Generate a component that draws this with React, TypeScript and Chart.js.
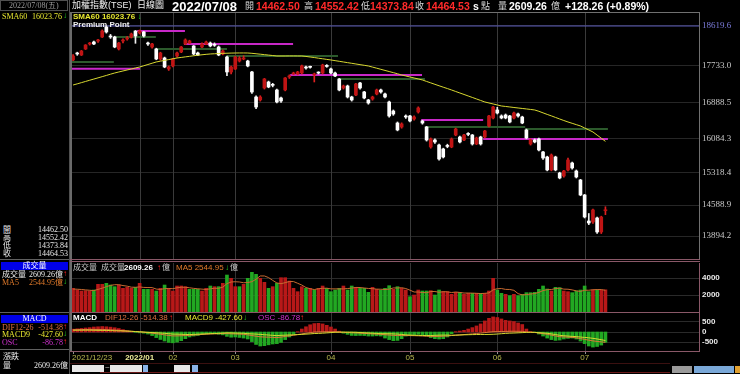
import React, { useEffect, useRef } from "react";
import { Chart, registerables } from "chart.js";
Chart.register(...registerables);

// ---------- DATA ----------
const opens = [17855,18012,17967,18102,18215,18260,18282,18372,18597,18395,18372,18102,18282,18327,18372,18507,18462,18485,18237,18147,18102,17877,17900,17652,17720,17945,18035,18215,18237,18170,18012,18147,18215,18237,18200,18147,17990,17922,17585,17652,17832,17877,17832,17585,17022,16955,17225,17360,17300,17180,17000,17180,17472,17540,17540,17562,17697,17700,17517,17570,17562,17730,17652,17562,17427,17225,17270,17022,17067,17337,17135,16955,16977,17090,17180,17090,16910,16707,16437,16347,16595,16595,16527,16685,16482,16347,15897,16055,15942,15852,15930,15897,16167,16122,16055,16200,16167,15965,16122,16122,16370,16550,16730,16595,16617,16595,16550,16640,16572,16280,15965,16055,16077,15785,15672,15380,15672,15312,15245,15380,15537,15357,15155,14817,14232,14210,14300,13985,14462.5];
const highs = [17975,18030,18070,18200,18250,18280,18320,18530,18619.6,18430,18390,18250,18330,18380,18460,18520,18530,18500,18260,18230,18120,18030,17920,17720,17890,18030,18160,18330,18300,18180,18030,18240,18280,18260,18240,18170,18080,17940,17720,17940,17930,17950,17850,17600,17050,17050,17440,17380,17330,17200,17020,17460,17520,17580,17600,17740,17720,17720,17560,17590,17760,17750,17670,17580,17440,17290,17290,17040,17330,17350,17150,16970,17040,17200,17200,17110,16930,16730,16460,16440,16620,16610,16600,16800,16500,16360,16100,16080,15960,15870,15960,16100,16320,16140,16180,16220,16180,16120,16140,16270,16610,16810,16790,16620,16640,16610,16680,16660,16590,16300,16080,16080,16100,15800,15690,15740,15690,15330,15370,15650,15560,15380,15170,14830,14400,14500,14320,14340,14552.42];
const lows = [17840,17960,17955,18090,18190,18200,18250,18360,18460,18340,18130,18080,18240,18300,18350,18230,18440,18370,18180,18120,17860,17850,17680,17620,17700,17920,18020,18200,18220,17970,17950,18130,18200,18150,18160,17950,17970,17500,17540,17640,17810,17860,17700,17100,16760,16930,17200,17230,17250,16890,16900,17160,17440,17520,17520,17540,17650,17670,17360,17540,17540,17690,17540,17480,17160,17200,17000,16930,17050,17200,16980,16860,16950,17070,17110,17000,16570,16610,16260,16320,16540,16460,16500,16660,16410,16030,15870,15980,15600,15650,15880,15880,16150,15990,16040,16150,15940,15950,15940,16100,16350,16530,16640,16530,16530,16440,16530,16570,16420,16080,15940,15990,15810,15620,15360,15360,15360,15180,15220,15360,15400,15200,14800,14300,14150,14180,13950,13950,14373.84];
const closes = [17945,17990,18057,18192,18237,18215,18305,18507,18485,18372,18147,18237,18305,18350,18440,18395,18507,18395,18215,18215,17877,18012,17697,17697,17877,18012,18147,18305,18282,17990,17967,18215,18260,18170,18185,17967,18057,17585,17697,17922,17900,17900,17720,17135,16797,17022,17427,17247,17285,16910,16932,17450,17495,17562,17585,17720,17675,17690,17540,17560,17742,17710,17562,17495,17180,17270,17022,16955,17315,17225,17000,16887,17022,17180,17135,17022,16595,16640,16280,16415,16572,16482,16572,16775,16437,16055,16077,16010,15627,15672,15910,16077,16302,16010,16167,16180,15965,16100,15965,16257,16595,16797,16662,16550,16550,16460,16662,16595,16437,16100,16055,16010,15830,15650,15380,15717,15380,15200,15357,15605,15425,15222,14817,14322,14187,14480,13985,14322,14464.53];
const sma60 = [17292,17318,17345,17372,17399,17426,17453,17480,17507,17535,17562,17585,17608,17630,17652,17675,17697,17725,17753,17782,17810,17828,17846,17864,17882,17900,17912,17925,17937,17950,17962,17972,17982,17990,17995,18000,18004,18007,18010,18012,18013,18013,18012,18005,17995,17985,17975,17965,17955,17945,17945,17945,17946,17946,17945,17945,17935,17922,17910,17895,17882,17868,17855,17840,17825,17810,17795,17780,17765,17750,17735,17720,17695,17670,17645,17620,17595,17570,17545,17517,17495,17472,17450,17428,17405,17372,17340,17307,17275,17243,17212,17180,17146,17112,17079,17045,17012,16978,16944,16910,16888,16865,16843,16820,16809,16798,16786,16775,16764,16753,16742,16730,16700,16665,16630,16597,16562,16527,16493,16460,16430,16400,16370,16325,16280,16235,16165,16095,16023.76];
const volumes = [2783,2587,2470,2509,2470,2587,3254,3254,3371,3175,2979,3175,2783,2901,2783,2901,3371,2666,2666,2666,2470,2783,3175,2783,2470,3058,3058,2979,2666,2666,2666,2470,2783,3058,2979,2979,3371,4351,3959,2979,2979,3254,3959,4665,4430,3959,3489,2783,2979,3371,4037,4037,3646,2783,2391,2979,2783,2783,2587,2783,3058,2783,2391,2587,2783,3058,2587,3058,2901,2783,2783,2312,2901,2666,2587,2783,3097,2666,2979,2783,2587,1803,1999,2587,2470,2470,2509,1999,2587,2391,2391,2078,2312,2312,2078,2195,2195,2195,2195,2195,2470,3959,2587,2195,2078,1921,2078,1921,2078,2274,2274,2312,2666,3058,2705,2470,2901,2862,2470,2391,2274,2470,2587,3058,2391,2587,2587,2587,2609.26];
const volMa5 = [2700,2680,2650,2600,2560,2520,2660,2800,2980,3130,3210,3210,3110,3040,2920,2910,2950,2890,2880,2870,2700,2650,2750,2770,2740,2850,2910,2910,2850,2780,2730,2690,2650,2730,2790,2790,2920,3340,3530,3560,3530,3440,3470,3570,3860,4240,4240,4050,3720,3420,3330,3450,3590,3580,3380,3170,2880,2740,2640,2740,2780,2800,2720,2720,2720,2720,2760,2810,2890,2880,2820,2770,2750,2690,2680,2650,2690,2830,2820,2860,2760,2570,2350,2350,2290,2270,2410,2410,2320,2390,2370,2290,2350,2300,2230,2230,2220,2200,2170,2200,2250,2610,2740,2760,2660,2650,2550,2160,2010,2050,2110,2170,2310,2520,2630,2640,2760,2800,2690,2680,2600,2490,2420,2560,2560,2620,2640,2640,2544.95];
const osc = [24,27,30,34,37,42,44,46,44,41,36,29,20,10,3,-3,-7,-10,-17,-30,-47,-63,-76,-88,-91,-85,-73,-56,-42,-34,-29,-20,-15,-14,-15,-19,-24,-37,-44,-42,-46,-51,-59,-81,-105,-118,-115,-108,-101,-98,-88,-64,-42,-20,3,25,44,61,71,73,68,56,42,25,7,-10,-20,-29,-30,-29,-30,-34,-34,-32,-34,-51,-64,-73,-71,-56,-34,-25,-22,-20,-25,-34,-47,-56,-59,-56,-42,-14,3,8,14,25,37,51,68,93,115,127,122,110,98,93,88,76,63,25,3,-5,-17,-34,-51,-64,-71,-68,-59,-54,-51,-59,-76,-98,-118,-127,-122,-110,-86.78];
const dif = [112,116,120,125,128,129,127,126,122,110,98,84,70,53,36,20,6,-13,-33,-58,-84,-115,-143,-172,-196,-193,-187,-178,-171,-155,-140,-122,-108,-99,-92,-86,-80,-79,-90,-96,-106,-116,-143,-176,-211,-239,-251,-259,-269,-279,-254,-222,-191,-160,-127,-94,-62,-32,-5,5,10,12,13,13,-3,-17,-28,-39,-45,-57,-68,-82,-94,-104,-117,-136,-152,-167,-176,-178,-177,-180,-184,-190,-200,-210,-224,-222,-218,-210,-197,-177,-157,-143,-128,-111,-94,-75,-54,-29,-6,14,21,25,29,37,37,35,32,6,-12,-23,-52,-84,-116,-159,-199,-234,-245,-257,-271,-290,-328,-369,-409,-444,-471,-495,-514.38];
const macd9 = [88,89,90,91,92,87,83,80,78,70,62,56,50,43,34,24,14,-3,-17,-28,-37,-52,-67,-84,-105,-108,-114,-122,-129,-121,-111,-102,-93,-85,-77,-67,-56,-42,-46,-54,-60,-65,-84,-95,-106,-121,-136,-151,-168,-181,-166,-158,-149,-140,-130,-119,-106,-93,-76,-69,-58,-44,-29,-13,-10,-7,-8,-10,-15,-28,-38,-48,-60,-72,-83,-85,-88,-94,-105,-122,-143,-155,-162,-170,-175,-176,-177,-166,-159,-154,-155,-163,-160,-151,-142,-136,-131,-126,-122,-122,-121,-114,-101,-85,-69,-57,-51,-41,-32,-20,-15,-18,-35,-50,-65,-95,-128,-166,-186,-203,-220,-231,-252,-271,-291,-317,-349,-385,-427.6];

const monthIdx = [16, 24, 39, 62, 81, 102, 123];
const monthLabels = ["2022/01", "02", "03", "04", "05", "06", "07"];
const firstLabel = "2021/12/23";
const priceTicks = [18619.6, 17733.0, 16888.5, 16084.3, 15318.4, 14588.9, 13894.2];
const periodHigh = 18619.6;
const volTicks = [4000, 2000];
const macdTicks = [500, 0, -500];

const magStart = [-0.5, 15.4, 26.7, 52.2, 83.7, 98.6];
const magEnd = [16.1, 26.9, 52.9, 83.9, 98.6, 128.6];
const magLevel = [17660, 18507, 18215, 17517, 16505, 16077];
const grnStart = [-0.5, 10.1, 19.9, 37.0, 63.7, 84.6, 108.7];
const grnEnd = [9.8, 19.9, 37.0, 63.7, 84.6, 108.7, 128.6];
const grnLevel = [17810, 18372, 18102, 17945, 17427, 16347, 16302];

// ---------- STYLE ----------
const SANS = '"Liberation Sans", "Noto Sans CJK TC", sans-serif';
const SERIF = '"Liberation Serif", "Noto Sans CJK TC", serif';
const RED_BODY = "#c01414";
const RED_WICK = "#e02020";
const VOL_RED = "#b81818";
const VOL_GREEN = "#22a822";
const PINK = "#8a5868";

function segData(starts: number[], ends: number[], levels: number[]) {
  const out: any[] = [];
  starts.forEach((s, k) => {
    out.push({ x: s, y: levels[k] }, { x: ends[k], y: levels[k] }, { x: ends[k], y: null });
  });
  return out;
}

const vgrid = (color: string) => ({
  id: "vgrid",
  beforeDatasetsDraw(chart: any) {
    const { ctx, chartArea, scales } = chart;
    ctx.save();
    ctx.strokeStyle = color;
    ctx.lineWidth = 1;
    monthIdx.forEach((i) => {
      const px = Math.round(scales.x.getPixelForValue(i)) + 0.5;
      ctx.beginPath();
      ctx.moveTo(px, chartArea.top);
      ctx.lineTo(px, chartArea.bottom);
      ctx.stroke();
    });
    ctx.restore();
  },
});

const xLabels = {
  id: "xLabels",
  afterDraw(chart: any) {
    const { ctx, chartArea, scales } = chart;
    ctx.save();
    ctx.textBaseline = "middle";
    const y = chartArea.bottom + 7;
    ctx.strokeStyle = "#909090";
    ctx.fillStyle = "#b8b850";
    ctx.font = `8px ${SANS}`;
    ctx.textAlign = "left";
    const p0 = scales.x.getPixelForValue(0);
    ctx.fillText(firstLabel, p0 - 1, y);
    ctx.beginPath();
    ctx.moveTo(Math.round(p0) + 0.5, chartArea.bottom);
    ctx.lineTo(Math.round(p0) + 0.5, chartArea.bottom + 3);
    ctx.stroke();
    ctx.textAlign = "center";
    monthIdx.forEach((i, k) => {
      const px = scales.x.getPixelForValue(i);
      ctx.beginPath();
      ctx.moveTo(Math.round(px) + 0.5, chartArea.bottom);
      ctx.lineTo(Math.round(px) + 0.5, chartArea.bottom + 3);
      ctx.stroke();
      if (k === 0) {
        ctx.font = `bold 8px ${SANS}`;
        ctx.fillStyle = "#ecec98";
      } else {
        ctx.font = `8px ${SANS}`;
        ctx.fillStyle = "#b8b850";
      }
      ctx.fillText(monthLabels[k], px, y);
    });
    ctx.restore();
  },
};

function rightAxis(min: number, max: number, ticks: number[], opts: any) {
  return {
    position: "right",
    min,
    max,
    afterFit(s: any) {
      s.width = 41;
      s.paddingTop = 0;
      s.paddingBottom = 0;
    },
    afterBuildTicks(s: any) {
      s.ticks = ticks.map((v) => ({ value: v }));
    },
    ticks: { padding: 3, ...opts.ticks },
    grid: { color: opts.gridColor, drawTicks: false },
    border: { display: true, color: opts.borderColor, width: 1 },
  };
}

const xAxis = { type: "linear", min: -0.5, max: 150.5, offset: false, bounds: "ticks", display: false, grid: { offset: false } };

const baseOpts = {
  responsive: true,
  maintainAspectRatio: false,
  animation: false,
  events: [],
  layout: { padding: 0 },
  plugins: { legend: { display: false }, tooltip: { enabled: false } },
};

function Txt(props: { x: number; y: number; c?: string; s?: number; b?: boolean; f?: string; children: any; r?: boolean }) {
  const st: any = {
    position: "absolute",
    top: props.y,
    color: props.c || "#e0e0e0",
    fontSize: props.s || 10,
    fontWeight: props.b ? "bold" : "normal",
    fontFamily: props.f || SANS,
    whiteSpace: "nowrap",
    lineHeight: 1,
  };
  if (props.r) {
    st.right = 740 - props.x;
  } else st.left = props.x;
  return <div style={st}>{props.children}</div>;
}

function Line(props: { x: number; y: number; w: number; h: number; c: string }) {
  return <div style={{ position: "absolute", left: props.x, top: props.y, width: props.w, height: props.h, background: props.c }} />;
}

export default function App() {
  const priceRef = useRef<HTMLCanvasElement>(null);
  const volRef = useRef<HTMLCanvasElement>(null);
  const macdRef = useRef<HTMLCanvasElement>(null);

  useEffect(() => {
    const charts: Chart[] = [];
    const idx = closes.map((_, i) => i);
    const isUp = idx.map((i) => closes[i] >= opens[i]);
    const volUp = idx.map((i) => (i === 0 ? isUp[0] : closes[i] >= closes[i - 1]));

    charts.push(
      new Chart(priceRef.current as HTMLCanvasElement, {
        type: "bar",
        data: {
          datasets: [
            {
              type: "line",
              data: [{ x: -0.5, y: periodHigh }, { x: 150.5, y: periodHigh }],
              borderColor: "#5a5ab8",
              borderWidth: 1,
              pointRadius: 0,
              order: 5,
            } as any,
            {
              type: "line",
              data: segData(grnStart, grnEnd, grnLevel),
              borderColor: "#2c5a2c",
              borderWidth: 2,
              pointRadius: 0,
              spanGaps: false,
              order: 4,
            },
            {
              type: "line",
              data: segData(magStart, magEnd, magLevel),
              borderColor: "#c828c8",
              borderWidth: 2,
              pointRadius: 0,
              spanGaps: false,
              order: 3,
            },
            {
              type: "bar",
              data: idx.map((i) => ({ x: i, y: [lows[i], highs[i]] })),
              backgroundColor: idx.map((i) => (isUp[i] ? RED_WICK : "#f0f0f0")),
              barThickness: 1,
              grouped: false,
              order: 2,
            } as any,
            {
              type: "bar",
              data: idx.map((i) => ({ x: i, y: [opens[i], closes[i]] })),
              backgroundColor: idx.map((i) => (isUp[i] ? RED_BODY : "#ffffff")),
              barThickness: 3,
              minBarLength: 1,
              grouped: false,
              order: 1,
            } as any,
            {
              type: "line",
              data: idx.map((i) => ({ x: i, y: sma60[i] })),
              borderColor: "#d8d830",
              borderWidth: 1,
              pointRadius: 0,
              order: 0,
            },
          ],
        },
        options: {
          ...baseOpts,
          scales: {
            x: xAxis,
            y: rightAxis(13376.7, 18912.1, priceTicks, {
              gridColor: "#262626",
              borderColor: "#707070",
              ticks: {
                color: (c: any) => (c.tick && c.tick.value === periodHigh ? "#7c7cdc" : "#c8c8c8"),
                font: { family: SERIF, size: 9 },
                callback: (v: any) => Number(v).toFixed(1),
              },
            }),
          },
        } as any,
        plugins: [vgrid("#3a3a3a")],
      })
    );

    charts.push(
      new Chart(volRef.current as HTMLCanvasElement, {
        type: "bar",
        data: {
          datasets: [
            {
              type: "line",
              data: idx.map((i) => ({ x: i, y: volMa5[i] })),
              borderColor: "#c86a30",
              borderWidth: 1,
              pointRadius: 0,
              order: 0,
            },
            {
              type: "bar",
              data: idx.map((i) => ({ x: i, y: volumes[i] })),
              backgroundColor: idx.map((i) => (volUp[i] ? VOL_RED : VOL_GREEN)),
              barThickness: 3,
              order: 1,
            } as any,
          ],
        },
        options: {
          ...baseOpts,
          scales: {
            x: xAxis,
            y: rightAxis(0, 5765, volTicks, {
              gridColor: "#2a2a2a",
              borderColor: PINK,
              ticks: { color: "#e8e8e8", font: { family: SANS, size: 8, weight: "bold" }, callback: (v: any) => String(v) },
            }),
          },
        } as any,
        plugins: [vgrid("#333333")],
      })
    );

    charts.push(
      new Chart(macdRef.current as HTMLCanvasElement, {
        type: "bar",
        data: {
          datasets: [
            {
              type: "line",
              data: idx.map((i) => ({ x: i, y: dif[i] })),
              borderColor: "#d87838",
              borderWidth: 1,
              pointRadius: 0,
              order: 1,
            },
            {
              type: "line",
              data: idx.map((i) => ({ x: i, y: macd9[i] })),
              borderColor: "#d8d830",
              borderWidth: 1,
              pointRadius: 0,
              order: 0,
            },
            {
              type: "bar",
              yAxisID: "yo",
              data: idx.map((i) => ({ x: i, y: osc[i] })),
              backgroundColor: idx.map((i) => (osc[i] >= 0 ? VOL_RED : VOL_GREEN)),
              barThickness: 3,
              order: 2,
            } as any,
          ],
        },
        options: {
          ...baseOpts,
          layout: { padding: { bottom: 11 } },
          scales: {
            x: xAxis,
            y: rightAxis(-950, 950, macdTicks, {
              gridColor: "#2a2a2a",
              borderColor: PINK,
              ticks: { color: "#e8e8e8", font: { family: SANS, size: 8, weight: "bold" }, callback: (v: any) => String(v) },
            }),
            yo: { display: false, min: -160, max: 160 },
          },
        } as any,
        plugins: [vgrid("#333333"), xLabels],
      })
    );

    return () => charts.forEach((c) => c.destroy());
  }, []);

  const dn = <span style={{ color: "#20d020" }}>↓</span>;

  return (
    <div style={{ position: "fixed", left: 0, top: 0, width: 740, height: 374, background: "#000", overflow: "hidden" }}>
      {/* chart canvases */}
      <div style={{ position: "absolute", left: 71, top: 13, width: 669, height: 246 }}>
        <canvas ref={priceRef} />
      </div>
      <div style={{ position: "absolute", left: 71, top: 263, width: 669, height: 49 }}>
        <canvas ref={volRef} />
      </div>
      <div style={{ position: "absolute", left: 71, top: 313, width: 669, height: 49 }}>
        <canvas ref={macdRef} />
      </div>

      {/* frames */}
      <Line x={70} y={12} w={630} h={1} c="#707070" />
      <Line x={70} y={12} w={2} h={340} c="#6a6a6a" />
      <Line x={69} y={0} w={1} h={374} c="#505050" />
      <Line x={70} y={259} w={630} h={1} c={PINK} />
      <Line x={70} y={261} w={630} h={1} c={PINK} />
      <Line x={70} y={312} w={630} h={1} c={PINK} />
      <Line x={70} y={351} w={630} h={1} c={PINK} />

      {/* header */}
      <div style={{ position: "absolute", left: 0, top: 0, width: 68, height: 11, border: "1px solid #505050", boxSizing: "border-box" }} />
      <Txt x={9} y={2} s={8} c="#9a9a9a" f={SERIF}>2022/07/08(五)</Txt>
      <Txt x={72} y={1} s={9} c="#f0f0f0">加權指數(TSE)</Txt>
      <Txt x={137} y={1} s={9} c="#f0f0f0">日線圖</Txt>
      <Txt x={172} y={0} s={13} b c="#ffffff">2022/07/08</Txt>
      <Txt x={245} y={2} s={9} c="#d8d8d8">開</Txt>
      <Txt x={256} y={1} s={10.5} b c="#ff2a2a">14462.50</Txt>
      <Txt x={304} y={2} s={9} c="#d8d8d8">高</Txt>
      <Txt x={315} y={1} s={10.5} b c="#ff2a2a">14552.42</Txt>
      <Txt x={361} y={2} s={9} c="#d8d8d8">低</Txt>
      <Txt x={370} y={1} s={10.5} b c="#ff2a2a">14373.84</Txt>
      <Txt x={415} y={2} s={9} c="#d8d8d8">收</Txt>
      <Txt x={426} y={1} s={10.5} b c="#ff2a2a">14464.53</Txt>
      <Txt x={473} y={1} s={10.5} b c="#ffffff">s</Txt>
      <Txt x={481} y={2} s={9} c="#d8d8d8">點</Txt>
      <Txt x={498} y={2} s={9} c="#d8d8d8">量</Txt>
      <Txt x={509} y={1} s={10.5} b c="#ffffff">2609.26</Txt>
      <Txt x={551} y={2} s={9} c="#d8d8d8">億</Txt>
      <Txt x={565} y={1} s={10.5} b c="#ffffff">+128.26 (+0.89%)</Txt>

      {/* in-chart labels */}
      <Txt x={73} y={13} s={8} b c="#e8e830">SMA60 16023.76 {dn}</Txt>
      <Txt x={73} y={21} s={8} b c="#f0f0f0">Premium Point</Txt>

      {/* left panel */}
      <Txt x={2} y={13} s={8} c="#e8e830" f={SERIF}>SMA60</Txt>
      <Txt x={62} y={13} s={8} c="#e8e830" f={SERIF} r>16023.76</Txt>
      <Txt x={63} y={12} s={8} c="#20d020">↓</Txt>

      <Txt x={3} y={226} s={8} c="#e8e8e8" f={SERIF}>開</Txt>
      <Txt x={68} y={226} s={8} c="#e8e8e8" f={SERIF} r>14462.50</Txt>
      <Txt x={3} y={234} s={8} c="#e8e8e8" f={SERIF}>高</Txt>
      <Txt x={68} y={234} s={8} c="#e8e8e8" f={SERIF} r>14552.42</Txt>
      <Txt x={3} y={242} s={8} c="#e8e8e8" f={SERIF}>低</Txt>
      <Txt x={68} y={242} s={8} c="#e8e8e8" f={SERIF} r>14373.84</Txt>
      <Txt x={3} y={250} s={8} c="#e8e8e8" f={SERIF}>收</Txt>
      <Txt x={68} y={250} s={8} c="#e8e8e8" f={SERIF} r>14464.53</Txt>
      <Line x={0} y={259} w={69} h={1} c="#606060" />

      <div style={{ position: "absolute", left: 1, top: 262, width: 67, height: 8, background: "#0000e8", color: "#fff", fontSize: 8, lineHeight: "8px", textAlign: "center", fontFamily: SERIF }}>成交量</div>
      <Txt x={2} y={271} s={8} c="#e8e8e8" f={SERIF}>成交量</Txt>
      <Txt x={63} y={271} s={8} c="#e8e8e8" f={SERIF} r>2609.26億</Txt>
      <Txt x={63} y={270} s={8} c="#ff2020">↑</Txt>
      <Txt x={2} y={279} s={8} c="#e07a2a" f={SERIF}>MA5</Txt>
      <Txt x={63} y={279} s={8} c="#e07a2a" f={SERIF} r>2544.95億</Txt>
      <Txt x={63} y={278} s={8} c="#20d020">↓</Txt>
      <Line x={0} y={312} w={69} h={1} c="#606060" />

      <div style={{ position: "absolute", left: 1, top: 315, width: 67, height: 8, background: "#0000e8", color: "#fff", fontSize: 8, lineHeight: "8px", textAlign: "center", fontFamily: SERIF }}>MACD</div>
      <Txt x={2} y={324} s={8} c="#e07040" f={SERIF}>DIF12-26</Txt>
      <Txt x={63} y={324} s={8} c="#e07040" f={SERIF} r>-514.38</Txt>
      <Txt x={63} y={323} s={8} c="#ff2020">↑</Txt>
      <Txt x={2} y={331} s={8} c="#e8e830" f={SERIF}>MACD9</Txt>
      <Txt x={63} y={331} s={8} c="#e8e830" f={SERIF} r>-427.60</Txt>
      <Txt x={63} y={330} s={8} c="#20d020">↓</Txt>
      <Txt x={2} y={339} s={8} c="#d030d0" f={SERIF}>OSC</Txt>
      <Txt x={63} y={339} s={8} c="#d030d0" f={SERIF} r>-86.78</Txt>
      <Txt x={63} y={338} s={8} c="#ff2020">↑</Txt>
      <Line x={0} y={349} w={69} h={1} c="#606060" />
      <Txt x={3} y={353} s={8} c="#e8e8e8" f={SERIF}>漲跌</Txt>
      <Txt x={3} y={362} s={8} c="#e8e8e8" f={SERIF}>量</Txt>
      <Txt x={68} y={362} s={8} c="#e8e8e8" f={SERIF} r>2609.26億</Txt>

      {/* volume / macd headers */}
      <Txt x={73} y={264} s={8} c="#c8c8c8">成交量</Txt>
      <Txt x={101} y={264} s={8} c="#c8c8c8">成交量</Txt>
      <Txt x={124} y={264} s={8} b c="#ffffff">2609.26</Txt>
      <Txt x={157} y={264} s={8} c="#ff2020">↑</Txt>
      <Txt x={162} y={264} s={8} c="#c8c8c8">億</Txt>
      <Txt x={176} y={264} s={8} c="#e07a2a">MA5 2544.95</Txt>
      <Txt x={225} y={264} s={8} c="#20d020">↓</Txt>
      <Txt x={230} y={264} s={8} c="#c8c8c8">億</Txt>

      <Txt x={73} y={314} s={8} b c="#ffffff">MACD</Txt>
      <Txt x={105} y={314} s={8} c="#e07040">DIF12-26 -514.38</Txt>
      <Txt x={169} y={314} s={8} c="#ff2020">↑</Txt>
      <Txt x={185} y={314} s={8} c="#e8e830">MACD9 -427.60</Txt>
      <Txt x={243} y={314} s={8} c="#20d020">↓</Txt>
      <Txt x={258} y={314} s={8} c="#d030d0">OSC -86.78</Txt>
      <Txt x={300} y={314} s={8} c="#ff2020">↑</Txt>

      {/* bottom toolbar */}
      <Line x={70} y={363} w={600} h={1} c="#3a1010" />
      <Line x={100} y={372} w={570} h={1} c="#6a1818" />
      <div style={{ position: "absolute", left: 72, top: 365, width: 32, height: 7, background: "#e8e8e8" }} />
      <Txt x={105} y={364} s={8} c="#c8c8c8">~</Txt>
      <div style={{ position: "absolute", left: 110, top: 365, width: 32, height: 7, background: "#e8e8e8" }} />
      <div style={{ position: "absolute", left: 143, top: 365, width: 5, height: 7, background: "#8ab4e8" }} />
      <div style={{ position: "absolute", left: 174, top: 365, width: 16, height: 7, background: "#e8e8e8" }} />
      <div style={{ position: "absolute", left: 192, top: 365, width: 6, height: 7, background: "#8ab4e8" }} />
      <div style={{ position: "absolute", left: 672, top: 366, width: 20, height: 7, background: "#9a9a9a" }} />
      <div style={{ position: "absolute", left: 694, top: 366, width: 40, height: 7, background: "#7aa8d8" }} />
      <div style={{ position: "absolute", left: 735, top: 366, width: 5, height: 7, background: "#e0a030" }} />
    </div>
  );
}
